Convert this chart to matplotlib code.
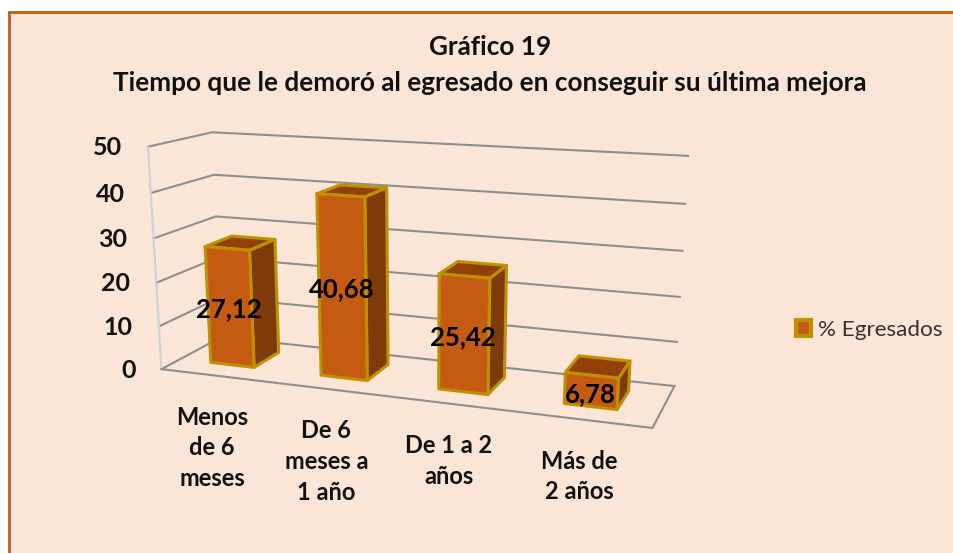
import numpy as np
import matplotlib
matplotlib.use("Agg")
import matplotlib.pyplot as plt
from matplotlib.patches import Polygon, Patch, Rectangle

categories = ["Menos\nde 6\nmeses", "De 6\nmeses a\n1 año", "De 1 a 2\naños", "Más de\n2 años"]
values = [27.12, 40.68, 25.42, 6.78]
value_labels = ["27,12", "40,68", "25,42", "6,78"]
y_ticks = [0, 10, 20, 30, 40, 50]
series_name = "% Egresados"
title = "Gráfico 19\nTiempo que le demoró al egresado en conseguir su última mejora"

FONT = "Lato"
BG = "#FBE5D6"
ORANGE = "#C55A11"
SIDE = "#7F3A0A"
TOP = "#934008"
EDGE = "#BF9000"
GRID = "#8E8E8E"

fig = plt.figure(figsize=(9.54, 5.53), dpi=100, facecolor="white")
ax = fig.add_axes([0, 0, 1, 1])
ax.set_xlim(0, 954)
ax.set_ylim(553, 0)
ax.axis("off")
ax.add_patch(Rectangle((9, 12), 960, 560, facecolor=BG, edgecolor=ORANGE, lw=2, zorder=0))

# Camera: perspective projection of (category position, value, depth) to pixels
calib = [
    ((0, 0, 0), (161, 367)), ((0, 50, 0), (148, 148)),
    ((0, 0, 1), (222, 339)), ((0, 50, 1), (212, 131)),
    ((4, 0, 1), (674, 385)), ((4, 50, 1), (688, 156)),
    ((4, 0, 0), (653, 429)),
]
A, b = [], []
for (X, Y, Z), (px, py) in calib:
    A.append([X, Y, Z, 1, 0, 0, 0, 0, -px * X, -px * Y, -px * Z]); b.append(px)
    A.append([0, 0, 0, 0, X, Y, Z, 1, -py * X, -py * Y, -py * Z]); b.append(py)
sol = np.linalg.lstsq(np.array(A, float), np.array(b, float), rcond=None)[0]
P = np.append(sol, 1.0).reshape(3, 4)


def proj(u, v, d):
    h = P @ np.array([u, v, d, 1.0])
    return (h[0] / h[2], h[1] / h[2])


# Walls and floor
for t in y_ticks:
    pts = [proj(0, t, 0), proj(0, t, 1), proj(4, t, 1)]
    ax.plot(*zip(*pts), color=GRID, lw=1.5, zorder=1, solid_joinstyle="miter")
    x, y = proj(0, t, 0)
    ax.text(x - 26, y + 1, str(t), ha="right", va="center", family=FONT,
            fontweight="bold", fontsize=18, color="#111111", zorder=5)
ax.plot(*zip(proj(0, 0, 0), proj(0, 50, 0)), color="#C9D2DE", lw=1.5, zorder=1)
ax.plot(*zip(proj(0, 0, 0), proj(4, 0, 0), proj(4, 0, 1)), color=GRID, lw=1.5, zorder=1)

# Bars
D0, D1 = 0.3, 0.75
U0, U1 = 0.285, 0.685
for i, (val, lab, cat) in enumerate(zip(values, value_labels, categories)):
    u0, u1 = i + U0, i + U1
    front = [proj(u0, 0, D0), proj(u1, 0, D0), proj(u1, val, D0), proj(u0, val, D0)]
    side = [proj(u1, 0, D0), proj(u1, 0, D1), proj(u1, val, D1), proj(u1, val, D0)]
    top = [proj(u0, val, D0), proj(u1, val, D0), proj(u1, val, D1), proj(u0, val, D1)]
    for poly, col in ((side, SIDE), (top, TOP), (front, ORANGE)):
        ax.add_patch(Polygon(poly, closed=True, facecolor=col, edgecolor=EDGE, lw=2.2,
                             joinstyle="round", zorder=3 + 0.1 * i))
    cx = np.mean([p[0] for p in front])
    cy = np.mean([p[1] for p in front])
    ax.text(cx - 1, cy + 3, lab, ha="center", va="center", family=FONT, fontweight="bold",
            fontsize=18.5, color="black", zorder=6)
    fx, fy = proj(i + 0.5, 0, 0)
    ax.text(fx - 4, fy + 30, cat, ha="center", va="top", family=FONT, fontweight="bold",
            fontsize=17, color="#111111", linespacing=1.41, zorder=5)

fig.text(490 / 954, 1 - 65 / 553, title, ha="center", va="center", family=FONT,
         fontweight="bold", fontsize=18.8, color="#111111", linespacing=1.64)

leg = ax.legend(handles=[Patch(facecolor=ORANGE, edgecolor=EDGE, lw=3, label=series_name)],
                loc="center left", bbox_to_anchor=(796 / 954, 1 - 330 / 553), frameon=False,
                handlelength=0.68, handleheight=0.68, handletextpad=0.3, borderpad=0, borderaxespad=0,
                prop={"family": FONT, "size": 16.2})
for t in leg.get_texts():
    t.set_color("#333333")

fig.savefig("out.png", dpi=100, facecolor=fig.get_facecolor())
